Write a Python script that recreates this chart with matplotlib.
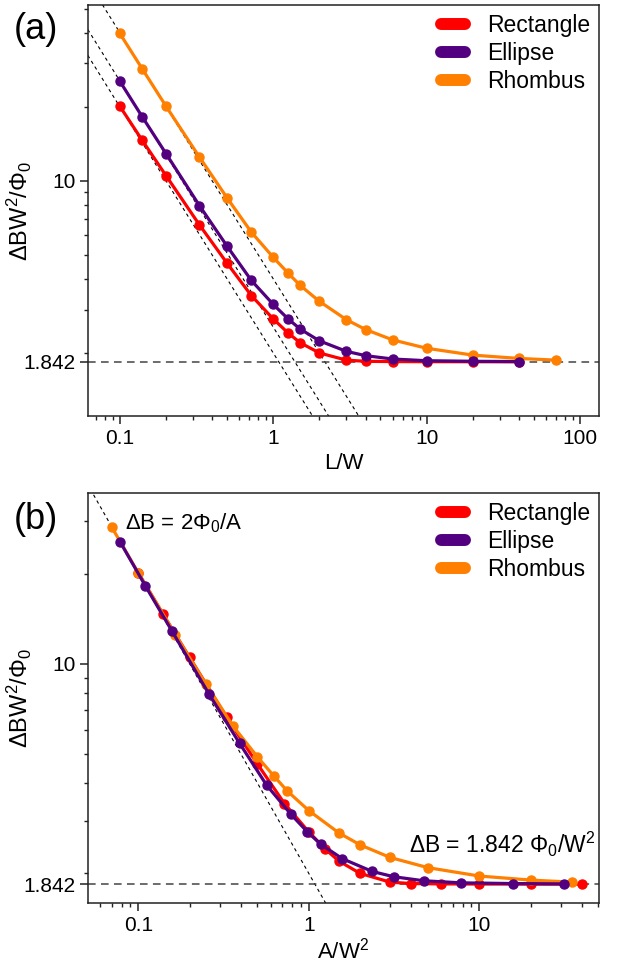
import numpy as np
import matplotlib
matplotlib.use("Agg")
import matplotlib.pyplot as plt
from matplotlib.lines import Line2D
from matplotlib.ticker import FixedLocator, FixedFormatter, LogLocator, NullFormatter

plt.rcParams['font.family'] = ['Liberation Sans', 'DejaVu Sans']
plt.rcParams['mathtext.fontset'] = 'custom'
plt.rcParams['mathtext.rm'] = 'Liberation Sans'
plt.rcParams['mathtext.it'] = 'Liberation Sans:italic'

# L/W ratios and normalised field period for each shape
lw_rect = [0.1, 0.14, 0.2, 0.33, 0.5, 0.72, 1, 1.25, 1.5, 2, 3, 4, 6, 10, 20, 40]
y_rect = [20.1, 14.6, 10.5, 6.63, 4.63, 3.42, 2.75, 2.41, 2.2, 2.0, 1.87, 1.85, 1.845, 1.843, 1.842, 1.842]

lw_ell = [0.1, 0.14, 0.2, 0.33, 0.5, 0.72, 1, 1.25, 1.5, 2, 3, 4, 6, 10, 20, 40]
y_ell = [25.4, 18.2, 12.9, 7.94, 5.43, 3.94, 3.15, 2.75, 2.50, 2.24, 2.03, 1.95, 1.89, 1.86, 1.85, 1.845]

lw_rho = [0.1, 0.14, 0.2, 0.33, 0.5, 0.72, 1, 1.25, 1.5, 2, 3, 4, 6, 10, 20, 40, 70]
y_rho = [39.7, 28.5, 20.1, 12.5, 8.53, 6.19, 4.89, 4.22, 3.76, 3.24, 2.73, 2.49, 2.26, 2.09, 1.96, 1.90, 1.87]

# area / W^2 for each shape relative to L/W
area_factor = {'Rectangle': 1.0, 'Ellipse': np.pi / 4, 'Rhombus': 0.5}
# asymptote dB W^2/Phi0 = c / (L/W)
asym_coef = [2.0, 8 / np.pi, 4.0]
plateau = 1.842

colors = {'Rectangle': '#FF0000', 'Ellipse': '#52007F', 'Rhombus': '#FF7F00'}
zord = {'Rectangle': 3, 'Rhombus': 4, 'Ellipse': 5}

series = [('Rectangle', lw_rect, y_rect),
          ('Ellipse', lw_ell, y_ell),
          ('Rhombus', lw_rho, y_rho)]

fig = plt.figure(figsize=(6.18, 9.67), dpi=100)
ax1 = fig.add_axes([0.1424, 0.5698, 0.8269, 0.425])
ax2 = fig.add_axes([0.1424, 0.0659, 0.8269, 0.4246])


def style_axis(ax, xticks, xlabels):
    ax.set_xscale('log')
    ax.set_yscale('log')
    for s in ax.spines.values():
        s.set_linewidth(1.1)
        s.set_color('#222222')
    ax.xaxis.set_major_locator(FixedLocator(xticks))
    ax.xaxis.set_major_formatter(FixedFormatter(xlabels))
    ax.yaxis.set_major_locator(FixedLocator([plateau, 10]))
    ax.yaxis.set_major_formatter(FixedFormatter(['1.842', '10']))
    for a in (ax.xaxis, ax.yaxis):
        a.set_minor_locator(LogLocator(base=10, subs=np.arange(2, 10), numticks=30))
        a.set_minor_formatter(NullFormatter())
    ax.tick_params(which='major', direction='out', length=5.5, width=1.1,
                   labelsize=15, pad=3.5, color='#222222')
    ax.tick_params(which='minor', direction='out', length=3, width=1.0, color='#222222')
    ax.set_ylabel(r'ΔBW$^2$/Φ$_0$', fontsize=17)
    ax.yaxis.set_label_coords(-0.105, 0.5)


def add_legend(ax):
    handles = [Line2D([0], [0], color=colors[n], lw=8.6, solid_capstyle='round')
                for n in ['Rectangle', 'Ellipse', 'Rhombus']]
    ax.legend(handles, ['Rectangle', 'Ellipse', 'Rhombus'], loc='upper right',
              frameon=False, fontsize=16.5, handlelength=1.05, handletextpad=0.95,
              labelspacing=0.22, borderaxespad=0.2, borderpad=0.2)


# (a) vs L/W
xs = np.logspace(np.log10(0.05), np.log10(200), 50)
for c in asym_coef:
    ax1.plot(xs, c / xs, color='black', lw=0.8, ls=(0, (3, 3)), zorder=1)
ax1.axhline(plateau, color='#444444', lw=1.1, ls=(0, (5, 3.5)), zorder=1)
for name, x, y in series:
    ax1.plot(x, y, color=colors[name], lw=2.3, marker='o', ms=6.5, zorder=zord[name])
style_axis(ax1, [0.1, 1, 10, 100], ['0.1', '1', '10', '100'])
ax1.set_xlim(0.062, 133)
ax1.set_ylim(1.109, 51.8)
ax1.set_xlabel('L/W', fontsize=16, labelpad=4)
add_legend(ax1)

# (b) vs A/W^2
ax2.plot(xs, asym_coef[0] / xs, color='black', lw=0.8, ls=(0, (3, 3)), zorder=1)
ax2.axhline(plateau, color='#444444', lw=1.1, ls=(0, (5, 3.5)), zorder=1)
for name, x, y in series:
    xa = np.array(x) * area_factor[name]
    ya = np.array(y)
    keep = xa > 0.06
    ax2.plot(xa[keep], ya[keep], color=colors[name], lw=2.3, marker='o', ms=6.5,
             zorder=zord[name])
style_axis(ax2, [0.1, 1, 10], ['0.1', '1', '10'])
ax2.set_xlim(0.0507, 50.4)
ax2.set_ylim(1.59, 37.2)
ax2.set_xlabel(r'A/W$^2$', fontsize=16, labelpad=2)
add_legend(ax2)

ax2.text(0.0724, 0.926, r'ΔB = 2Φ$_0$/A', transform=ax2.transAxes,
         fontsize=16, ha='left', va='center')
ax2.text(0.992, 0.1225, r'ΔB = 1.842 Φ$_0$/W$^2$', transform=ax2.transAxes,
         fontsize=16.5, ha='right', va='baseline')

fig.text(0.022, 0.969, '(a)', fontsize=26, ha='left', va='center')
fig.text(0.022, 0.4623, '(b)', fontsize=26, ha='left', va='center')

fig.savefig('out.png', dpi=100)
